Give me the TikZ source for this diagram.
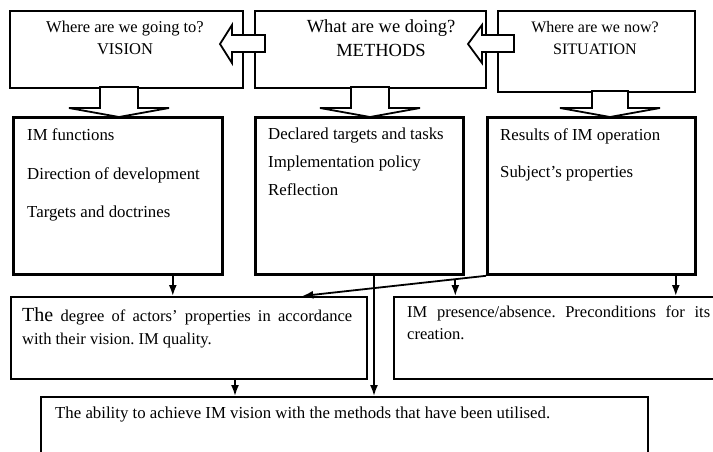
\documentclass[tikz,border=0pt]{standalone}
\usepackage{fontspec}
\setmainfont{Liberation Serif}
\usetikzlibrary{positioning,calc,arrows.meta}
\frenchspacing

\begin{document}
\begin{tikzpicture}[x=1pt,y=-1pt]
    % Setup the styles for the boxes and arrows
        \tikzset{box style/.style={draw, rectangle,
                                   line width=2.2pt,
                                   anchor=north west,
                                   inner sep=0pt},
                 txt style/.style={inner sep=0pt,
                                   font=\fontsize{16.8}{19}\selectfont},
                 fat style/.style={draw, line width=1.8pt,
                                   fill=white},
                 link style/.style={line width=1.8pt,
                                    -{Latex[length=11pt,width=8pt]}}}
        \useasboundingbox (0,0) rectangle (713,451);
        \clip (0,0) rectangle (713,451);
        % Draw the boxes
        \node[box style, minimum width=233, minimum height=77]  at (9, 10)    (vision) {};
        \node[box style, minimum width=231, minimum height=77]  at (254, 10)  (methods) {};
        \node[box style, minimum width=197, minimum height=81]  at (497, 10)  (situation) {};
        \node[box style, line width=2.8pt, minimum width=209, minimum height=157]
            at (12, 116)  (functions) {};
        \node[box style, line width=2.8pt, minimum width=208, minimum height=157]
            at (254, 116) (declared) {};
        \node[box style, line width=2.8pt, minimum width=208, minimum height=157]
            at (486, 116) (results) {};
        \node[box style, minimum width=356, minimum height=82]  at (10, 296)  (degree) {};
        \node[box style, minimum width=340, minimum height=82]  at (393, 296) (presence) {};
        \node[box style, minimum width=607, minimum height=80]  at (40, 396)  (ability) {};
        % Write the texts
        \node[txt style, font=\fontsize{16.5}{22}\selectfont, align=center, anchor=north]
            at (125, 21) (visiontxt) {Where are we going to?\\VISION};
        \node[txt style, font=\fontsize{18.5}{24}\selectfont, align=center, anchor=north]
            at (381, 19) (methodstxt) {What are we doing?\\METHODS};
        \node[txt style, font=\fontsize{16}{22}\selectfont, align=center, anchor=north]
            at (595, 21) (situationtxt) {Where are we now?\\SITUATION};
        \node[txt style, align=left, anchor=north west] at (27, 128) (functionstxt)
            {IM functions\\[20pt]Direction of development\\[19pt]Targets and doctrines};
        \node[txt style, align=left, anchor=north west] at (268, 128) (declaredtxt)
            {Declared targets and tasks\\[9pt]Implementation policy\\[9pt]Reflection};
        \node[txt style, align=left, anchor=north west] at (500, 128) (resultstxt)
            {Results of IM operation\\[18pt]Subject’s properties};
        \node[txt style, font=\fontsize{16.5}{23}\selectfont, text width=330, align=justify,
              anchor=north west] at (22, 307) (degreetxt)
            {{\fontsize{20}{23}\selectfont The} degree of actors’ properties in accordance\linebreak
             with their vision. IM quality.};
        \node[txt style, font=\fontsize{16.5}{22}\selectfont, text width=303, align=justify,
              anchor=north west] at (407, 306) (presencetxt)
            {IM presence/absence. Preconditions for its\linebreak creation.};
        \node[txt style, anchor=base west] at (55, 418) (abilitytxt)
            {The ability to achieve IM vision with the methods that have been utilised.};
        % Draw the block arrows
        \coordinate (vtip) at (119, 117);
        \coordinate (mtip) at (370, 117);
        \coordinate (stip) at (610, 117);
        \coordinate (ltip) at (220, 44);
        \coordinate (rtip) at (468, 44);
        \draw[fat style] (vtip) -- ++(50,-9) -- ++(-31,0) -- ++(0,-21) -- ++(-38,0)
            -- ++(0,21) -- ++(-31,0) -- cycle;
        \draw[fat style] (mtip) -- ++(50,-9) -- ++(-31,0) -- ++(0,-21) -- ++(-38,0)
            -- ++(0,21) -- ++(-31,0) -- cycle;
        \draw[fat style] (stip) -- ++(50,-9) -- ++(-32,0) -- ++(0,-17) -- ++(-36,0)
            -- ++(0,17) -- ++(-32,0) -- cycle;
        \draw[fat style] (ltip) -- ++(12,-19) -- ++(0,10) -- ++(33,0) -- ++(0,17)
            -- ++(-33,0) -- ++(0,11) -- cycle;
        \draw[fat style] (rtip) -- ++(14,-19) -- ++(0,10) -- ++(32,0) -- ++(0,17)
            -- ++(-32,0) -- ++(0,11) -- cycle;
        % Connect the boxes with arrows
        \coordinate (branch) at ($(results.south west)!0.167!([xshift=-66]degree.north east)$);
        \draw[link style] ([xshift=-51]functions.south east)
            -- ([xshift=-51]functions.south east |- degree.north);
        \draw[link style] (results.south west) -- ([xshift=-66]degree.north east);
        \draw[link style] (branch) -- (branch |- presence.north);
        \draw[link style] ([xshift=-21]results.south east)
            -- ([xshift=-21]results.south east |- presence.north);
        \draw[link style] ([xshift=225]degree.south west)
            -- ([xshift=225]degree.south west |- ability.north);
        \draw[link style] ([xshift=120]declared.south west)
            -- ([xshift=120]declared.south west |- ability.north);
\end{tikzpicture}
\end{document}
